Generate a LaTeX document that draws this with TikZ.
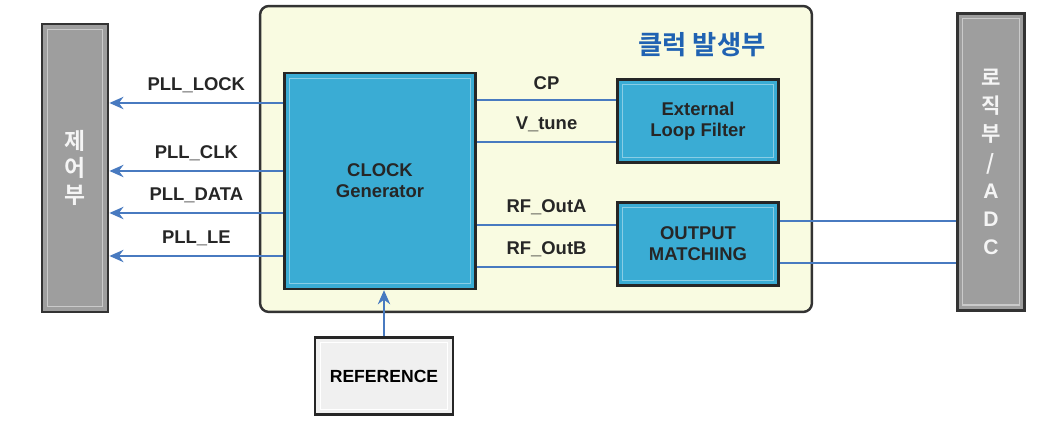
\documentclass[tikz,border=0pt]{standalone}
\usepackage{fontspec}
\setmainfont{Liberation Sans}
\newfontfamily\krfont{Noto Sans CJK KR}[BoldFont={Noto Sans CJK KR Bold}]
\usepackage{tikz}
\usetikzlibrary{arrows.meta}
\definecolor{genblue}{RGB}{58,172,212}
\definecolor{lineblue}{RGB}{72,122,192}
\definecolor{titleblue}{RGB}{32,98,178}
\definecolor{semfill}{RGB}{249,251,225}
\definecolor{barfill}{RGB}{158,158,158}

\begin{document}
\begin{tikzpicture}[
x = 0.02cm, y = -0.02cm,
bevel/.style={path picture={\draw[#1, line width = 0.8pt] ([shift={(3pt,-3pt)}]path picture bounding box.north west) rectangle ([shift={(-3pt,3pt)}]path picture bounding box.south east);}},
semrect/.style={rectangle, draw = black!80, line width = 1.4pt, fill = semfill, rounded corners = 5pt, minimum width = 11.04cm, minimum height = 6.12cm},
modrect/.style={rectangle, align = center, draw = black!85, line width = 1.4pt, fill = genblue, bevel = genblue!60!white, font = \bfseries\fontsize{10.5}{12}\selectfont, text = black!85},
barrect/.style={rectangle, align = center, draw = black!80, line width = 1.6pt, fill = barfill, bevel = barfill!55!white, minimum width = 1.32cm, text = white!92!gray, font = \krfont\bfseries\fontsize{13}{15.5}\selectfont},
refrect/.style={rectangle, align = center, draw = black!85, line width = 1.6pt, fill = gray!12, bevel = white, minimum width = 2.76cm, minimum height = 1.54cm, font = \bfseries\fontsize{10}{11.5}\selectfont},
sigarr/.style={-{Stealth[length = 8pt, width = 7pt]}, line width = 1.5pt, draw = lineblue},
sigline/.style={line width = 1.5pt, draw = lineblue},
siglabel/.style={above = 2pt, font = \bfseries\fontsize{10.5}{12}\selectfont, text = black!85}]

\useasboundingbox (0,0) rectangle (1054,421);

\node[semrect] (clk) at (536,159) {};
\node[font = \krfont\bfseries\fontsize{15}{17}\selectfont, text = titleblue] (title) at (702,45) {클럭 발생부};

\node[barrect, minimum height = 5.76cm] (ctrl) at (75,168) {제\\어\\부};
\node[barrect, minimum height = 5.94cm, minimum width = 1.34cm, font = \krfont\bfseries\fontsize{12}{16}\selectfont] (logic) at (991,162) {로\\직\\부\\/\\\rmfamily A\\\rmfamily D\\\rmfamily C};

\node[modrect, minimum width = 3.82cm, minimum height = 4.32cm] (gen) at (380,181) {CLOCK\\Generator};
\node[modrect, minimum width = 3.22cm, minimum height = 1.66cm] (LF) at (698,121) {External\\Loop Filter};
\node[modrect, minimum width = 3.22cm, minimum height = 1.66cm] (OM) at (698,244) {OUTPUT\\MATCHING};
\node[refrect] (ref) at (384,376) {REFERENCE};

\coordinate (yLock) at (0,103);
\coordinate (yClk) at (0,171);
\coordinate (yData) at (0,213);
\coordinate (yLe) at (0,256);
\coordinate (yCp) at (0,100);
\coordinate (yTune) at (0,142);
\coordinate (yOutA) at (0,225);
\coordinate (yOutB) at (0,267);
\coordinate (yAdcA) at (0,221);
\coordinate (yAdcB) at (0,263);

\draw[sigarr] (gen.west |- yLock) -- (ctrl.east |- yLock) node[siglabel, midway] {PLL\_LOCK};
\draw[sigarr] (gen.west |- yClk) -- (ctrl.east |- yClk) node[siglabel, midway] {PLL\_CLK};
\draw[sigarr] (gen.west |- yData) -- (ctrl.east |- yData) node[siglabel, midway] {PLL\_DATA};
\draw[sigarr] (gen.west |- yLe) -- (ctrl.east |- yLe) node[siglabel, midway] {PLL\_LE};

\draw[sigline] (gen.east |- yCp) -- (LF.west |- yCp) node[siglabel, midway] {CP};
\draw[sigline] (gen.east |- yTune) -- (LF.west |- yTune) node[siglabel, midway] {V\_tune};
\draw[sigline] (gen.east |- yOutA) -- (OM.west |- yOutA) node[siglabel, midway] {RF\_OutA};
\draw[sigline] (gen.east |- yOutB) -- (OM.west |- yOutB) node[siglabel, midway] {RF\_OutB};

\draw[sigline] (OM.east |- yAdcA) -- (logic.west |- yAdcA);
\draw[sigline] (OM.east |- yAdcB) -- (logic.west |- yAdcB);

\draw[sigarr] (ref.north) -- (ref.north |- gen.south);

\end{tikzpicture}
\end{document}
